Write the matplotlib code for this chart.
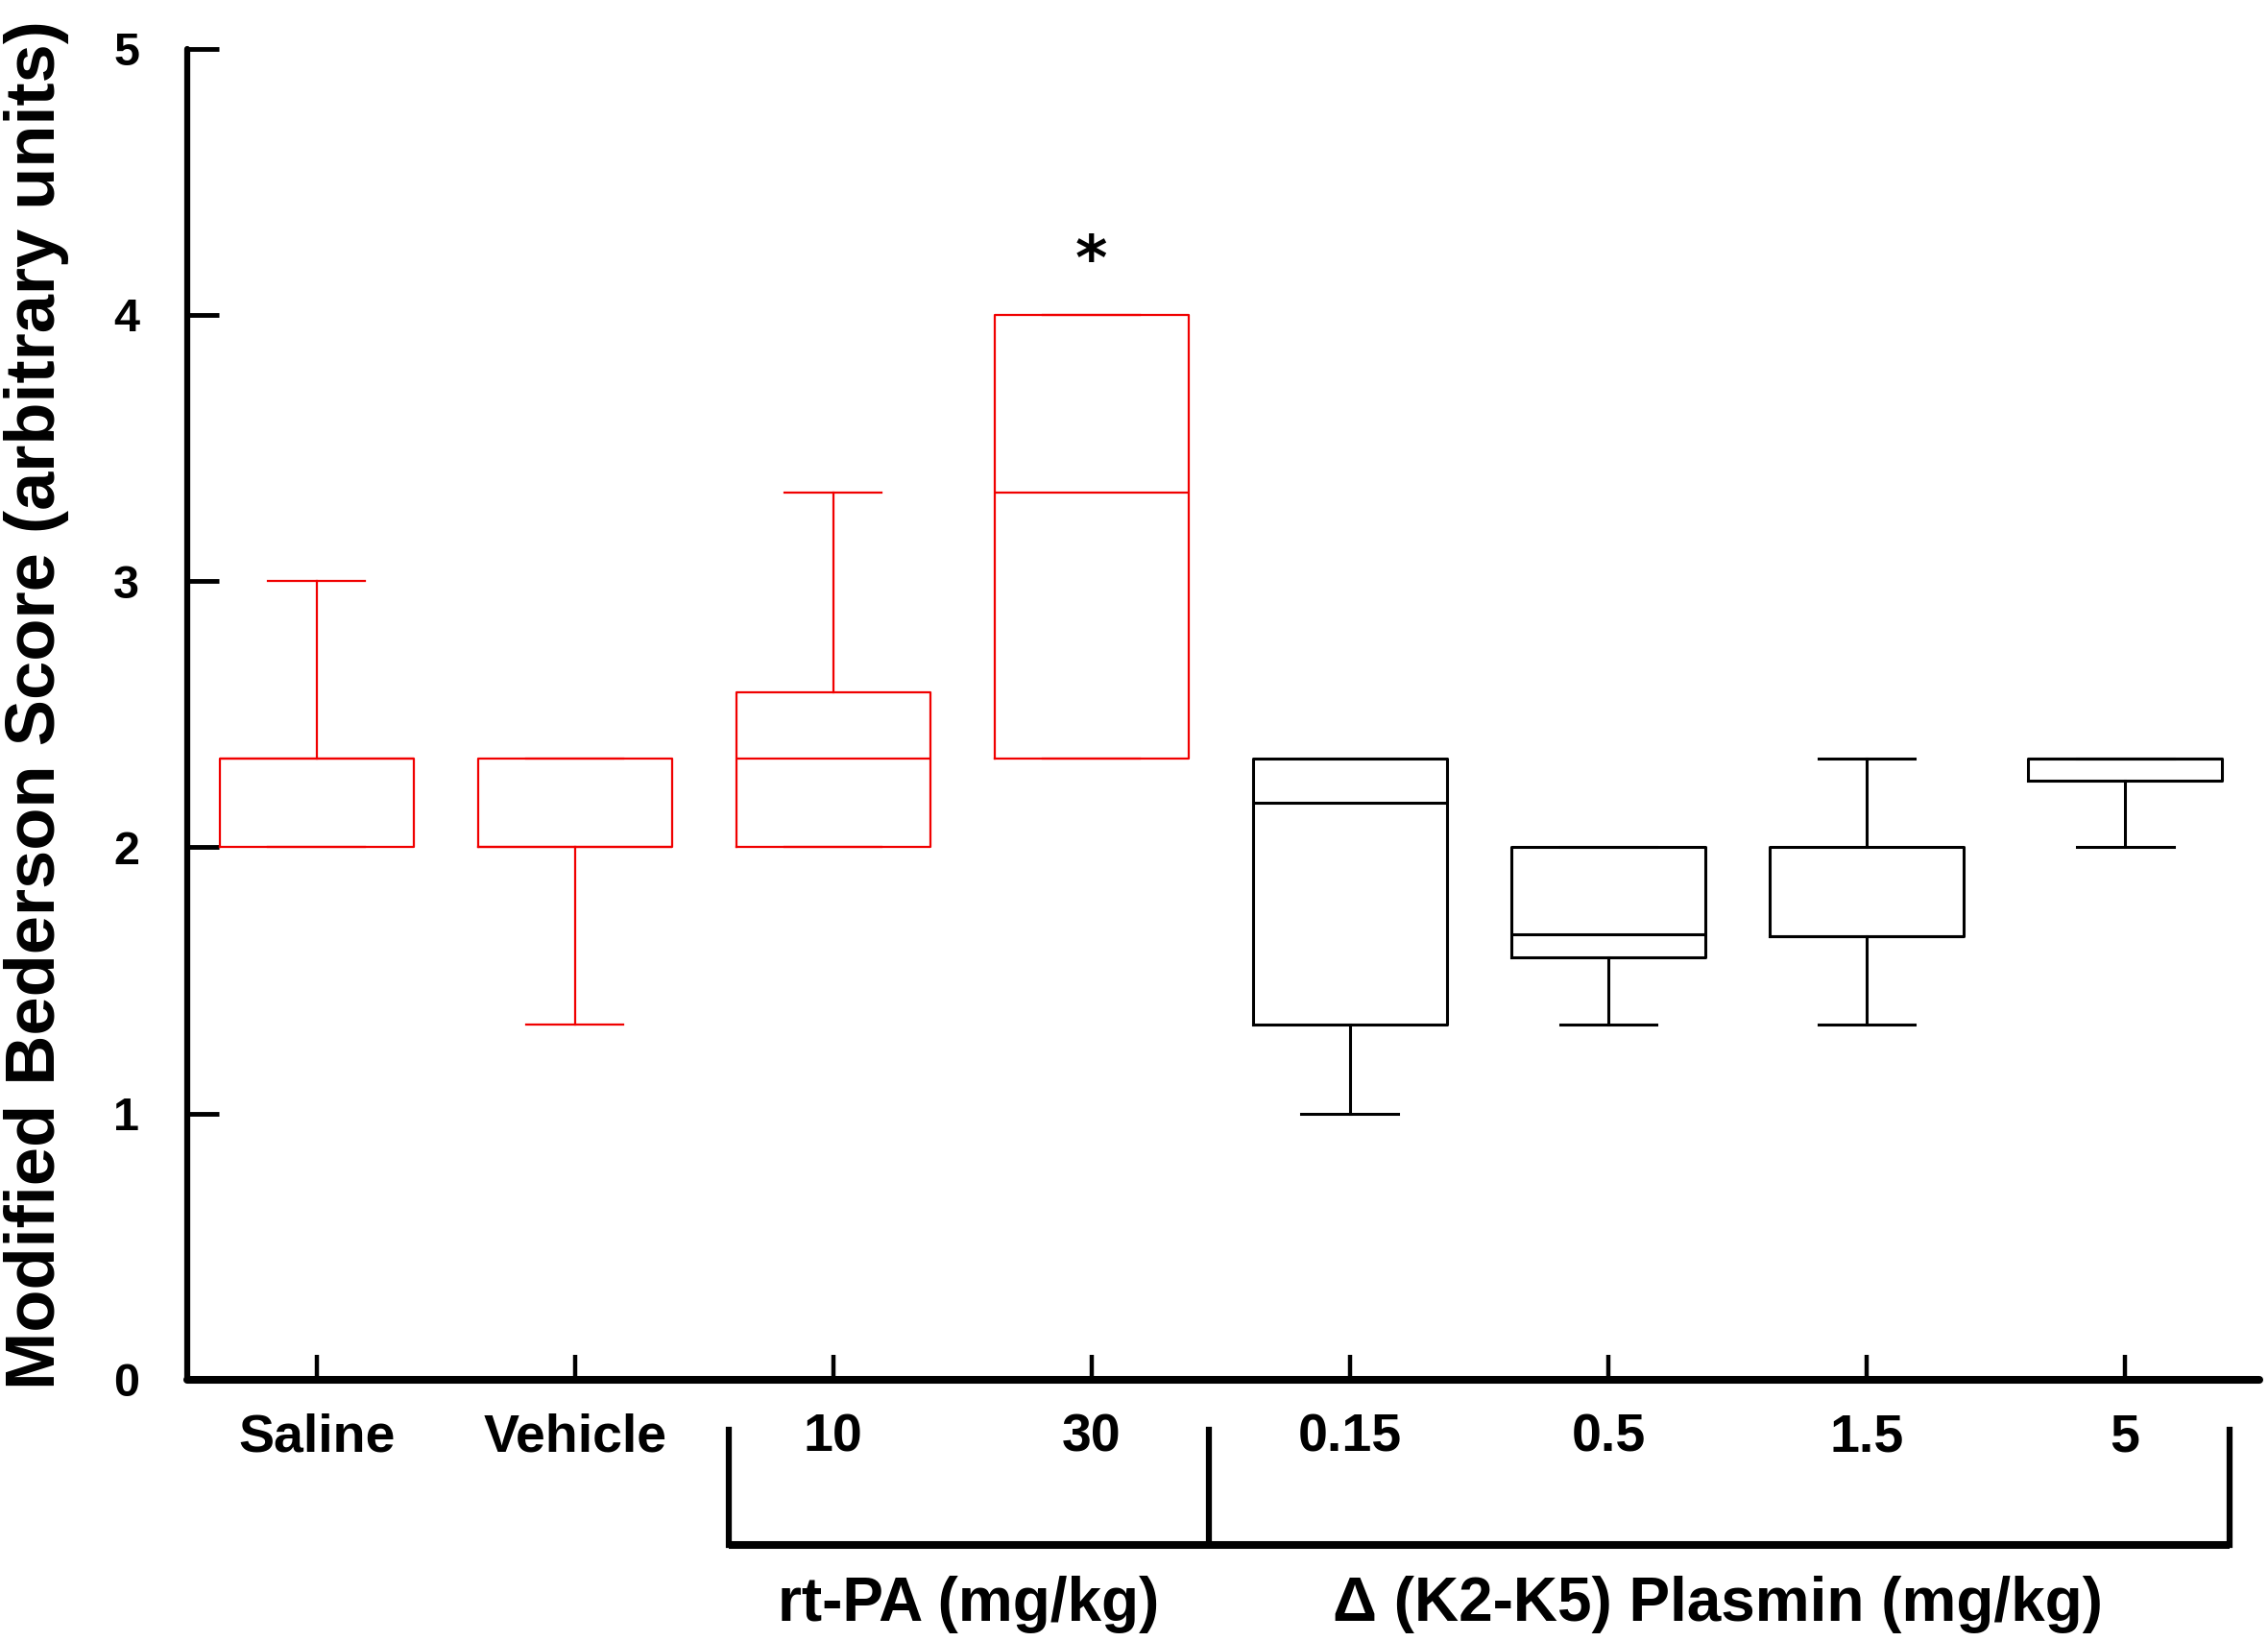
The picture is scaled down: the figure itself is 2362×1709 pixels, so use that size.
import matplotlib
matplotlib.use("Agg")
import matplotlib.pyplot as plt

plt.rcParams['font.family'] = ['Liberation Sans', 'DejaVu Sans']

# ---- data ----
categories = ["Saline", "Vehicle", "10", "30", "0.15", "0.5", "1.5", "5"]
q1 = [2.0, 2.0, 2.0, 2.333, 1.333, 1.588, 1.667, 2.25]
med = [2.333, 2.0, 2.333, 3.333, 2.167, 1.673, 1.667, 2.333]
q3 = [2.333, 2.333, 2.583, 4.0, 2.333, 2.0, 2.0, 2.333]
whislo = [2.0, 1.333, 2.0, 2.333, 1.0, 1.333, 1.333, 2.0]
whishi = [3.0, 2.333, 3.333, 4.0, 2.333, 2.0, 2.333, 2.333]
colors = ["#f00000", "#f00000", "#f00000", "#f00000", "black", "black", "black", "black"]
group_labels = ["rt-PA (mg/kg)", "Δ (K2-K5) Plasmin (mg/kg)"]
y_ticks = [0, 1, 2, 3, 4, 5]

fig = plt.figure(figsize=(23.62, 17.09), dpi=100)
ax = fig.add_axes([0.0826, 0.1592, 0.9962 - 0.0826, 0.9703 - 0.1592])

positions = list(range(1, len(categories) + 1))
for i, pos in enumerate(positions):
    st = [dict(med=med[i], q1=q1[i], q3=q3[i], whislo=whislo[i], whishi=whishi[i], fliers=[])]
    lw = 1.6 if colors[i] != "black" else 2.2
    ax.bxp(st, positions=[pos], widths=0.75, showfliers=False,
           boxprops=dict(color=colors[i], linewidth=lw),
           medianprops=dict(color=colors[i], linewidth=lw),
           whiskerprops=dict(color=colors[i], linewidth=lw),
           capprops=dict(color=colors[i], linewidth=lw))

ax.set_xlim(0.5, 8.52)
ax.set_ylim(0, 5)

for s in ["top", "right"]:
    ax.spines[s].set_visible(False)
ax.spines["left"].set_linewidth(4.5)
ax.spines["bottom"].set_linewidth(5.8)
ax.spines["left"].set_capstyle("round")
ax.spines["bottom"].set_capstyle("round")

ax.set_yticks(y_ticks)
ax.set_yticklabels([str(v) for v in y_ticks], fontsize=35, fontweight="bold")
ax.set_xticks(positions)
ax.set_xticklabels(categories, fontsize=40, fontweight="bold")
ax.tick_params(axis="y", direction="in", length=24, width=3.5, pad=36)
ax.tick_params(axis="x", direction="in", length=19, width=3.2, pad=25)

# significance marker
ax.text(4, 4.20, "*", ha="center", va="center", fontsize=46,
        family="DejaVu Sans", fontweight="bold")

# group brackets
ax.plot([2.596, 2.596, 8.404, 8.404], [-0.187, -0.62, -0.62, -0.187],
        color="black", linewidth=4.5, clip_on=False, solid_joinstyle="miter")
ax.plot([2.596, 8.404], [-0.62, -0.62], color="black", linewidth=5.8,
        clip_on=False, solid_capstyle="butt")
ax.plot([4.454, 4.454], [-0.187, -0.62], color="black", linewidth=4.5, clip_on=False)

ax.text(3.523, -0.905, group_labels[0], ha="center", va="baseline",
        fontsize=46, fontweight="bold")
ax.text(6.424, -0.905, group_labels[1], ha="center", va="baseline",
        fontsize=46, fontweight="bold")

fig.text(38 / 2362, 1 - 734 / 1709, "Modified Bederson Score (arbitrary units)",
         rotation=90, ha="center", va="center", fontsize=52, fontweight="bold")

fig.savefig("out.png", dpi=100, facecolor="white")
